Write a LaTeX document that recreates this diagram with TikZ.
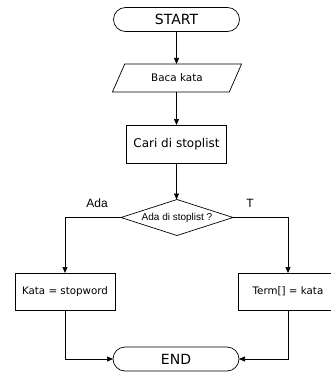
\documentclass[tikz,border=0pt]{standalone}
\usepackage{fontspec}
\setmainfont{DejaVu Sans}
\newfontfamily\arialfont{Liberation Sans}
\usetikzlibrary{shapes.geometric,shapes.misc,arrows.meta}
\begin{document}
\begin{tikzpicture}[x=1pt,y=-1pt,
  every node/.style={inner sep=0pt, outer sep=0pt, line width=0.7pt},
  term/.style={draw, rounded rectangle, minimum width=126pt, minimum height=24pt, font=\fontsize{14}{16}\selectfont},
  io/.style={draw, trapezium, trapezium left angle=53, trapezium right angle=127, trapezium stretches=true, minimum width=130pt, minimum height=28pt, font=\fontsize{10.4}{12}\selectfont},
  proc/.style={draw, rectangle, minimum width=100pt, minimum height=37pt, font=\fontsize{10.3}{12}\selectfont},
  decide/.style={draw, diamond, aspect=3.1, minimum width=112pt, minimum height=36pt, font=\arialfont\fontsize{10}{12}\selectfont},
  lbl/.style={font=\arialfont\fontsize{12}{14}\selectfont},
  conn/.style={line width=0.7pt, -{Triangle[length=6pt,width=5pt]}}
]
\useasboundingbox (0,0) rectangle (331,372);
\clip (0,0) rectangle (331,372);
\node[term] (start) at (176.5,19.5) {START};
\node[io] (baca) at (177,78) {Baca kata};
\node[proc, minimum height=38pt, font=\fontsize{12}{14}\selectfont] (cari) at (176.5,144) {Cari di stoplist};
\node[decide] (dec) at (177,217.5) {Ada di stoplist ?};
\node[proc] (kata) at (65,291.5) {Kata = stopword};
\node[proc] (termbox) at (288,291.5) {Term[] = kata};
\node[term] (end) at (176,359) {END};
\node[lbl] (ada) at (97,203) {Ada};
\node[lbl] (t) at (250,203) {T};
\draw[conn] (start.south) -- (start.south |- baca.north);
\draw[conn] (baca.south -| start.south) -- (start.south |- cari.north);
\draw[conn] (start.south |- cari.south) -- (start.south |- dec.north);
\draw[conn] (dec.west) -| (kata.north);
\draw[conn] (dec.east) -| (termbox.north);
\draw[conn] (kata.south) |- (end.west);
\draw[conn] (termbox.south) |- (end.east);
\end{tikzpicture}
\end{document}
